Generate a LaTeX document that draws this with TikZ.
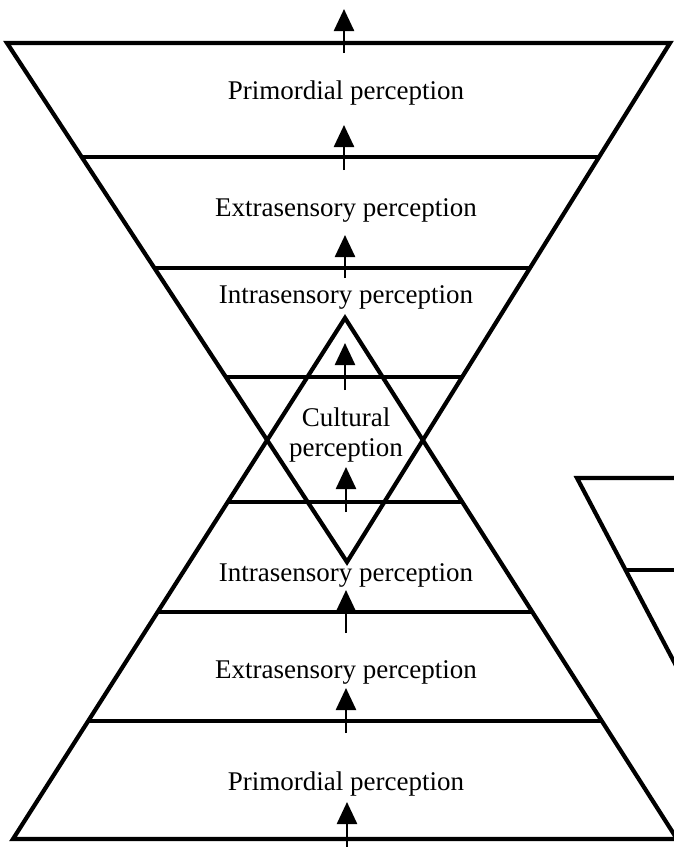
\documentclass[tikz,border=0pt]{standalone}
\usepackage{fontspec}
\setmainfont{Liberation Serif}
\usetikzlibrary{arrows.meta}
\begin{document}
\begin{tikzpicture}[x=1pt,y=-1pt,
  edge/.style={line width=4.2pt, line join=miter, miter limit=10},
  rung/.style={line width=4pt},
  lift/.style={line width=2.5pt, -{Triangle[width=20pt,length=22pt]}},
  level/.style={font=\fontsize{27}{30}\selectfont, inner sep=0pt, align=center}]
\useasboundingbox (0,0) rectangle (674,847);
\clip (0,0) rectangle (674,847);

% corners of the two large triangles
\coordinate (TL) at (7,43);
\coordinate (TR) at (670,43);
\coordinate (TA) at (347,562);
\coordinate (BL) at (13,839);
\coordinate (BR) at (677,839);
\coordinate (BA) at (345,318);

% horizontal divisions, trimmed to each triangle
\begin{scope}
  \clip (TL) -- (TR) -- (TA) -- cycle;
  \draw[rung] (0,157) -- (674,157) (0,268) -- (674,268) (0,377) -- (674,377);
\end{scope}
\begin{scope}
  \clip (BA) -- (BR) -- (BL) -- cycle;
  \draw[rung] (0,502) -- (674,502) (0,612) -- (674,612) (0,721) -- (674,721);
\end{scope}

% the inverted and the upright triangle
\draw[edge] (TL) -- (TR) -- (TA) -- cycle;
\draw[edge] (BA) -- (BR) -- (BL) -- cycle;

% the next figure, cut off at the right edge
\coordinate (RC) at (577,478);
\coordinate (RT) at (710,478);
\coordinate (RB) at (710,730);
\begin{scope}
  \clip (RC) -- (RT) -- (RB) -- cycle;
  \draw[rung] (600,570) -- (710,570);
\end{scope}
\draw[edge] (RT) -- (RC) -- (RB);

% level labels
\node[level] (p1) at (346,93)  {Primordial perception};
\node[level] (e1) at (346,210) {Extrasensory perception};
\node[level] (i1) at (346,297) {Intrasensory perception};
\node[level] (cu) at (346,435) {Cultural\\perception};
\node[level] (i2) at (346,575) {Intrasensory perception};
\node[level] (e2) at (346,672) {Extrasensory perception};
\node[level] (p2) at (346,784) {Primordial perception};

% upward arrows across each division
\foreach \n/\x/\a/\b in {1/344/53/9, 2/344/170/125, 3/345/278/235, 4/345/390/343,
                         5/346/512/467, 6/346/633/590, 7/346/733/688, 8/347/847/802} {
  \coordinate (s\n) at (\x,\a);
  \coordinate (t\n) at (\x,\b);
  \draw[lift] (s\n) -- (t\n);
}
\end{tikzpicture}
\end{document}
